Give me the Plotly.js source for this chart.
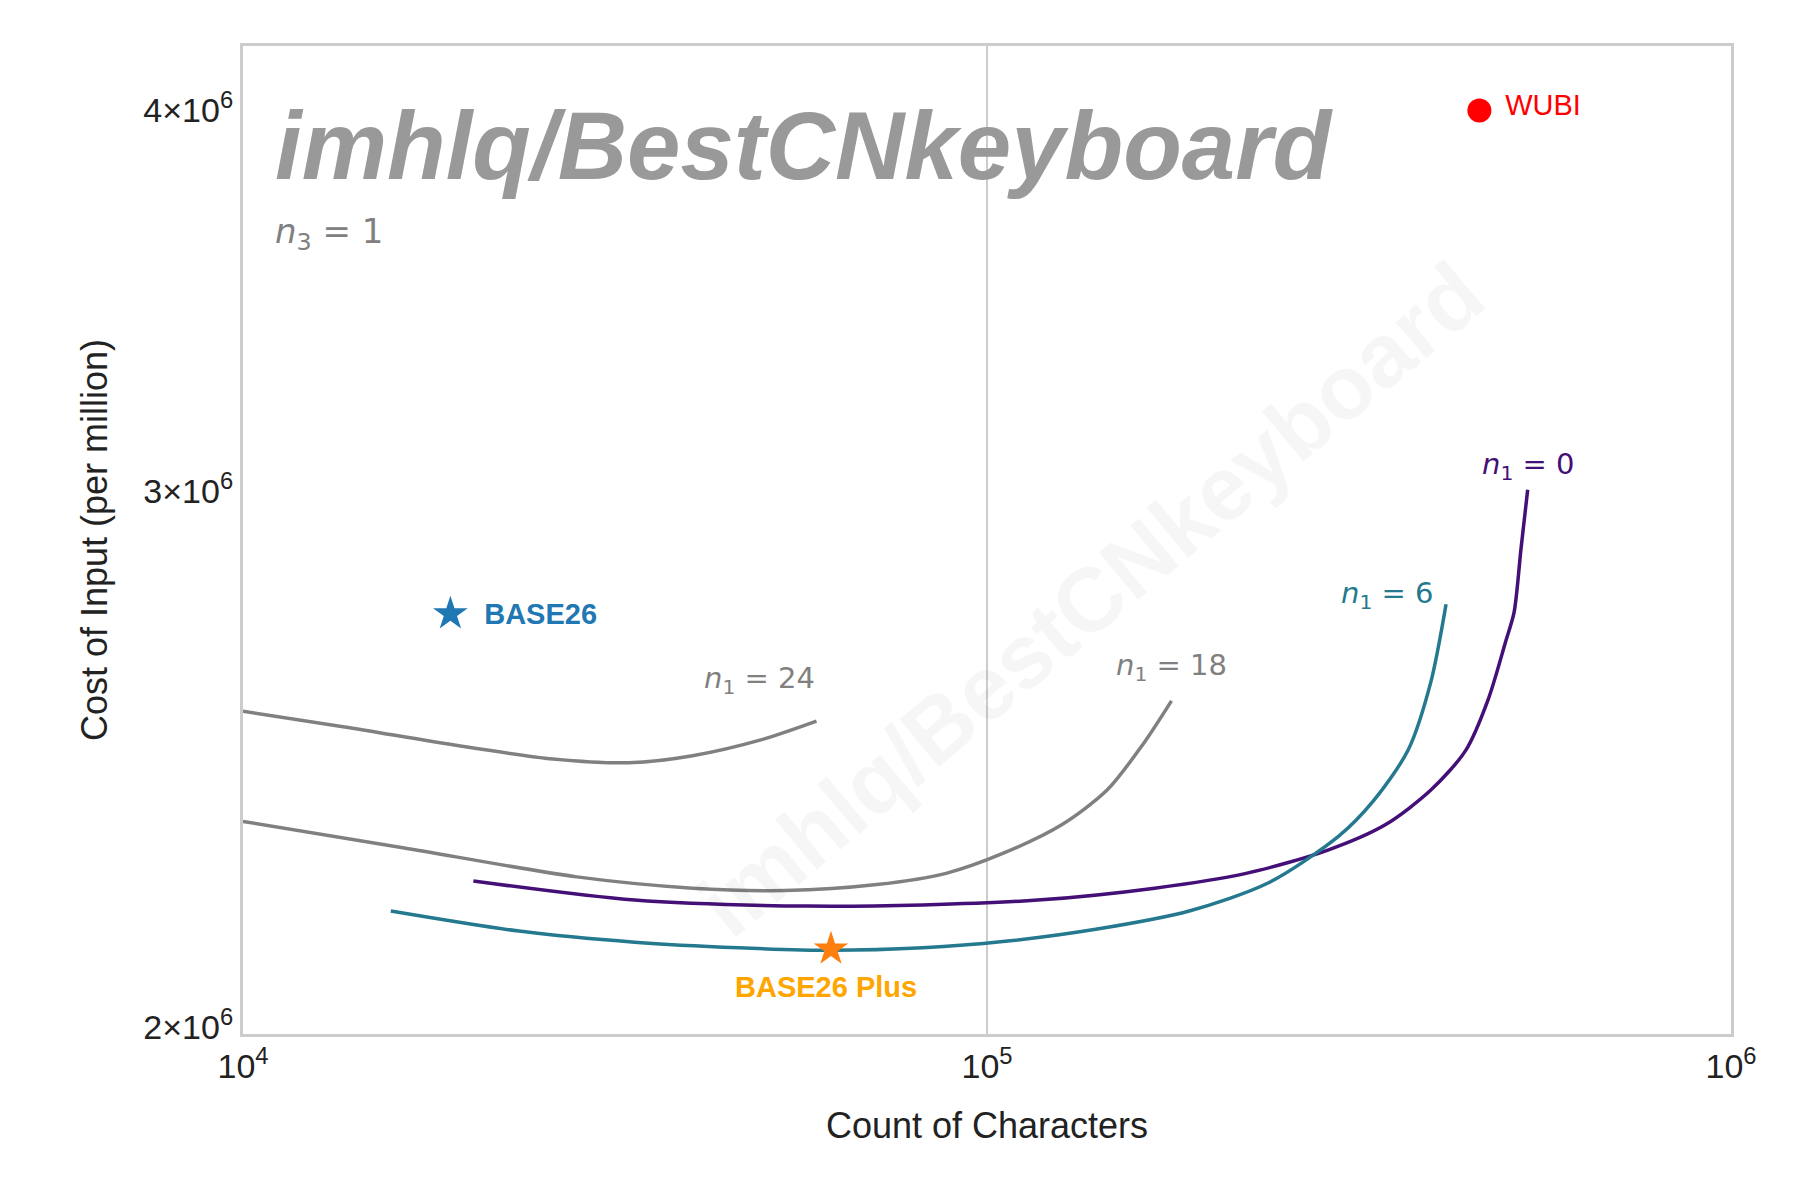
<!DOCTYPE html>
<html>
<head>
<meta charset="utf-8">
<script src="https://cdn.plot.ly/plotly-3.0.1.min.js"></script>
<style>body{margin:0;background:#fff}</style>
</head>
<body>
<div id="plot" style="width:1800px;height:1200px"></div>
<script>
// curves (x = count of characters, y = cost per million)
const n24_x = [10000, 13700, 19600, 26100, 33000, 40200, 49800, 59000]
const n24_y = [2540000, 2510000, 2474000, 2450000, 2443000, 2456000, 2486000, 2521000]

const n18_x = [10000, 16400, 28100, 40200, 53500, 71100, 88100, 105000, 126000, 145000, 162000, 177000]
const n18_y = [2337000, 2291000, 2241000, 2222000, 2218000, 2228000, 2247000, 2281000, 2331000, 2393000, 2477000, 2560000]

const n0_x = [20400, 33600, 57400, 82000, 117000, 168000, 223000, 286000, 343000, 395000, 440000, 472000, 498000, 511000, 522000, 533000]
const n0_y = [2234000, 2202000, 2192000, 2194000, 2202000, 2222000, 2247000, 2286000, 2331000, 2393000, 2466000, 2564000, 2678000, 2737000, 2871000, 3003000]

const n6_x = [15800, 23500, 33600, 46400, 61700, 82000, 105000, 140000, 187000, 239000, 297000, 330000, 368000, 395000, 414000]
const n6_y = [2184000, 2151000, 2133000, 2124000, 2120000, 2124000, 2134000, 2154000, 2184000, 2231000, 2311000, 2372000, 2466000, 2597000, 2754000]

const wubi = [459000, 4000000]
const base26 = [19000, 2734000]
const base26plus = [61700, 2122000]

const x_ticks = [1e4, 1e5, 1e6]
const x_ticktext = ["10<sup>4</sup>", "10<sup>5</sup>", "10<sup>6</sup>"]
const y_ticks = [2e6, 3e6, 4e6]
const y_ticktext = ["2×10<sup>6</sup>", "3×10<sup>6</sup>", "4×10<sup>6</sup>"]

const gray = "#808080"
const purple = "#440f76"
const teal = "#24798e"

function line(x, y, color) {
    return {x: x, y: y, mode: "lines", line: {color: color, width: 3.5, shape: "spline", smoothing: 0.8}, hoverinfo: "skip"}
}

let data = [
    line(n24_x, n24_y, gray),
    line(n18_x, n18_y, gray),
    line(n0_x, n0_y, purple),
    line(n6_x, n6_y, teal),
    {x: [wubi[0]], y: [wubi[1]], mode: "markers", marker: {color: "red", size: 24}},
    {x: [base26[0]], y: [base26[1]], mode: "markers", marker: {color: "#1f77b4", size: 26, symbol: "star"}},
    {x: [base26plus[0]], y: [base26plus[1]], mode: "markers", marker: {color: "#ff7f0e", size: 26, symbol: "star"}},
]

const font = "Liberation Sans, Arial, sans-serif"
function note(x, y, text, color, extra) {
    return Object.assign({x: Math.log10(x), y: Math.log10(y), text: text, showarrow: false,
        font: {family: "DejaVu Sans", size: 29, color: color}}, extra || {})
}

let annotations = [
    note(59000, 2560000, "<i>n</i><sub>1</sub> = 24", gray, {xanchor: "right", yanchor: "bottom"}),
    note(177000, 2585000, "<i>n</i><sub>1</sub> = 18", gray, {xanchor: "center", yanchor: "bottom"}),
    note(400000, 2730000, "<i>n</i><sub>1</sub> = 6", teal, {xanchor: "right", yanchor: "bottom"}),
    note(533000, 3010000, "<i>n</i><sub>1</sub> = 0", purple, {xanchor: "center", yanchor: "bottom"}),
    note(wubi[0], wubi[1], "   WUBI", "red", {xanchor: "left", yanchor: "bottom", yshift: -12, font: {family: font, size: 29, color: "red"}}),
    note(base26[0], base26[1], "    <b>BASE26</b>", "#1f77b4", {xanchor: "left", font: {family: font, size: 29, color: "#1f77b4"}}),
    note(base26plus[0], base26plus[1], "<b>BASE26 Plus</b>", "orange", {yanchor: "top", yshift: -20, xshift: -5, font: {family: font, size: 29, color: "orange"}}),
    {xref: "paper", yref: "paper", x: 0.02, y: 0.955, xanchor: "left", yanchor: "top", showarrow: false,
        text: "<b><i>imhlq/BestCNkeyboard</i></b>", font: {family: font, size: 96, color: "#999999"}},
    {xref: "paper", yref: "paper", x: 0.02, y: 0.835, xanchor: "left", yanchor: "top", showarrow: false,
        text: "<i>n</i><sub>3</sub> = 1", font: {family: "DejaVu Sans", size: 34, color: gray}},
    {xref: "paper", yref: "paper", x: 0.57, y: 0.44, showarrow: false, textangle: -40,
        text: "<b>imhlq/BestCNkeyboard</b>", font: {family: font, size: 90, color: "rgba(0,0,0,0.035)"}},
]

let layout = {
    width: 1800, height: 1200,
    margin: {l: 243, r: 69, t: 46, b: 166},
    showlegend: false,
    paper_bgcolor: "#fff", plot_bgcolor: "#fff",
    font: {family: font, size: 34, color: "#222"},
    xaxis: {type: "log", range: [4, 6], tickvals: x_ticks, ticktext: x_ticktext,
        showgrid: true, gridcolor: "#cccccc", gridwidth: 2, zeroline: false,
        showline: true, mirror: true, linecolor: "#cccccc", linewidth: 3, ticks: "",
        tickfont: {size: 34},
        title: {text: "Count of Characters", font: {size: 36}, standoff: 30}},
    yaxis: {type: "log", range: [Math.log10(1.99e6), Math.log10(4.2e6)], tickvals: y_ticks, ticktext: y_ticktext,
        showgrid: false, zeroline: false,
        showline: true, mirror: true, linecolor: "#cccccc", linewidth: 3, ticks: "",
        tickfont: {size: 34},
        title: {text: "Cost of Input (per million)", font: {size: 36}, standoff: 25}},
    annotations: annotations,
}

Plotly.newPlot("plot", data, layout, {staticPlot: true})
</script>
</body>
</html>
